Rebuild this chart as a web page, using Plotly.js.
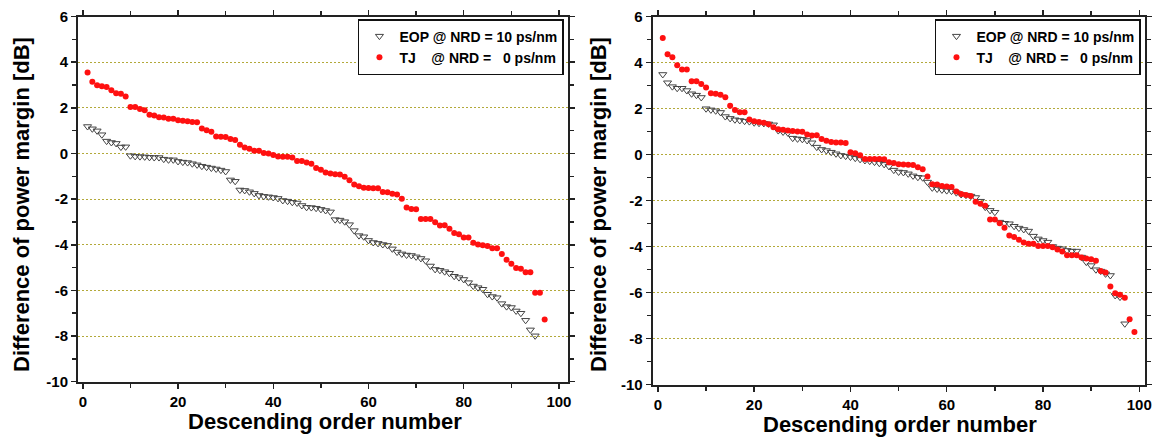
<!DOCTYPE html>
<html>
<head>
<meta charset="utf-8">
<script src="https://cdn.plot.ly/plotly-3.0.1.min.js"></script>
<style>html,body{margin:0;padding:0;background:#fff;}#chart{width:1158px;height:443px;}</style>
</head>
<body>
<div id="chart"></div>
<script>
const orderNumbers = [1,2,3,4,5,6,7,8,9,10,11,12,13,14,15,16,17,18,19,20,21,22,23,24,25,26,27,28,29,30,31,32,33,34,35,36,37,38,39,40,41,42,43,44,45,46,47,48,49,50,51,52,53,54,55,56,57,58,59,60,61,62,63,64,65,66,67,68,69,70,71,72,73,74,75,76,77,78,79,80,81,82,83,84,85,86,87,88,89,90,91,92,93,94,95,96,97,98,99];

const leftEOP = [1.18,1.08,0.99,0.82,0.54,0.48,0.44,0.28,0.29,
-0.10,-0.13,-0.14,-0.15,-0.17,-0.18,-0.18,-0.25,-0.28,-0.28,
-0.35,-0.38,-0.40,-0.45,-0.50,-0.56,-0.60,-0.64,-0.68,-0.73,-0.79,
-1.16,-1.22,
-1.60,-1.62,-1.68,-1.75,-1.84,-1.88,-1.90,-1.93,-1.97,-2.06,-2.09,-2.14,
-2.17,-2.28,-2.36,-2.37,-2.40,-2.45,-2.50,-2.56,
-2.90,-2.92,-2.99,-3.12,-3.38,-3.60,-3.65,-3.81,-3.90,-3.94,
-3.99,-4.03,-4.18,-4.32,-4.40,-4.45,-4.47,-4.53,-4.60,-4.70,
-4.93,-5.08,-5.12,-5.18,-5.25,-5.38,-5.44,-5.52,-5.66,-5.81,
-5.88,-5.95,-6.17,-6.27,-6.32,-6.58,-6.71,-6.75,-6.90,-7.00,
-7.31,-7.73,-7.99];

const leftTJ = [3.55,3.14,2.99,2.94,2.91,2.77,2.64,2.62,2.49,2.04,
2.04,1.95,1.89,1.70,1.66,1.59,1.57,1.52,1.52,1.45,
1.43,1.41,1.38,1.37,1.09,1.02,0.95,0.74,0.73,0.72,
0.63,0.59,0.38,0.26,0.21,0.12,0.12,0.02,0.00,-0.07,
-0.13,-0.14,-0.15,-0.18,-0.33,-0.33,-0.40,-0.45,-0.64,-0.71,
-0.84,-0.88,-0.91,-0.92,-1.02,-1.17,-1.36,-1.44,-1.50,-1.51,
-1.52,-1.53,-1.69,-1.70,-1.77,-1.80,-1.98,-2.37,-2.43,-2.45,
-2.87,-2.87,-2.87,-3.01,-3.16,-3.15,-3.30,-3.49,-3.54,-3.68,
-3.68,-3.91,-3.99,-4.02,-4.06,-4.15,-4.15,-4.41,-4.66,-4.83,
-5.02,-5.05,-5.21,-5.21,-6.10,-6.10,-7.28];

const rightEOP = [3.48,3.12,2.95,2.88,2.88,2.78,2.64,2.58,2.48,1.99,
1.94,1.90,1.83,1.65,1.57,1.51,1.48,1.45,1.43,1.38,
1.36,1.35,1.33,1.29,1.04,0.98,0.94,0.71,0.68,0.66,
0.61,0.51,0.32,0.22,0.17,0.10,0.03,-0.04,-0.07,-0.11,
-0.16,-0.21,-0.26,-0.29,-0.33,-0.38,-0.43,-0.52,-0.68,-0.76,
-0.78,-0.84,-0.93,-0.99,-1.01,-1.20,-1.45,-1.50,-1.54,-1.57,
-1.59,-1.66,-1.74,-1.77,-1.81,-1.87,-2.03,-2.29,-2.43,-2.51,
-2.94,-2.99,-3.01,-3.12,-3.20,-3.26,-3.33,-3.55,-3.67,-3.74,
-3.81,-4.00,-4.07,-4.10,-4.17,-4.20,-4.20,-4.46,-4.68,-4.83,
-5.01,-5.07,-5.19,-5.26,-6.13,-6.20,-7.36];

const rightTJ = [5.07,4.36,4.23,3.88,3.70,3.70,3.19,3.18,3.07,2.91,
2.66,2.64,2.60,2.49,2.12,1.94,1.84,1.84,1.52,1.45,
1.41,1.38,1.31,1.18,1.10,1.08,1.04,1.02,1.00,0.99,
0.87,0.83,0.84,0.67,0.60,0.54,0.52,0.52,0.50,0.10,
0.05,-0.03,-0.20,-0.20,-0.20,-0.20,-0.21,-0.34,-0.37,-0.42,
-0.44,-0.45,-0.46,-0.55,-0.64,-0.96,-1.29,-1.30,-1.37,-1.39,
-1.41,-1.61,-1.72,-1.76,-1.80,-2.05,-2.14,-2.23,-2.83,-2.83,
-2.99,-3.19,-3.52,-3.59,-3.71,-3.83,-3.88,-3.88,-3.98,-3.98,
-3.98,-4.03,-4.13,-4.22,-4.38,-4.38,-4.38,-4.48,-4.52,-4.55,
-4.62,-5.06,-5.13,-5.74,-6.03,-6.10,-6.23,-7.16,-7.72];

const xTickVals = [0,20,40,60,80,100];
const xTickText = ['0','20','40','60','80','100'];
const yTickVals = [-10,-8,-6,-4,-2,0,2,4,6];
const yTickText = ['-10','-8','-6','-4','-2','0','2','4','6'];

const nb = '\u00A0';
const eopName = 'EOP @ NRD = 10 ps/nm';
const tjName = 'TJ' + nb + nb + nb + nb + '@ NRD =' + nb + nb + nb + '0 ps/nm';
const xTitle = 'Descending order number';
const yTitle = 'Difference of power margin [dB]';

const FONT = 'Liberation Sans, Arial, Helvetica, sans-serif';
const eopMarker = {symbol:'triangle-down-open', size:7, color:'#444', line:{width:1, color:'#444'}};
const tjMarker = {symbol:'circle', size:6, color:'#ff1010', line:{width:0}};

const traces = [
  {x: orderNumbers.slice(0, leftEOP.length), y: leftEOP, mode:'markers', type:'scatter', name: eopName, marker: eopMarker, xaxis:'x', yaxis:'y', legend:'legend'},
  {x: orderNumbers.slice(0, leftTJ.length), y: leftTJ, mode:'markers', type:'scatter', name: tjName, marker: tjMarker, xaxis:'x', yaxis:'y', legend:'legend'},
  {x: orderNumbers.slice(0, rightEOP.length), y: rightEOP, mode:'markers', type:'scatter', name: eopName, marker: eopMarker, xaxis:'x2', yaxis:'y2', legend:'legend2'},
  {x: orderNumbers.slice(0, rightTJ.length), y: rightTJ, mode:'markers', type:'scatter', name: tjName, marker: tjMarker, xaxis:'x2', yaxis:'y2', legend:'legend2'}
];

const bold = arr => arr.map(t => '<b>' + t + '</b>');
const tickFont = {family:FONT, size:15, color:'#000', weight:700};
const titleFont = {family:FONT, size:22, color:'#000', weight:700};

function xAxis(domain, range, anchor) {
  return {
    domain: domain, range: range, anchor: anchor,
    tickmode:'array', tickvals: xTickVals, ticktext: bold(xTickText),
    ticks:'outside', ticklen:5, tickwidth:1.5, tickcolor:'#222',
    minor:{tickvals:[10,30,50,70,90], ticks:'outside', ticklen:4, tickwidth:1.5, tickcolor:'#222', showgrid:false},
    showline:true, linecolor:'#222', linewidth:2, mirror:'ticks',
    showgrid:false, zeroline:false,
    tickfont: tickFont
  };
}
function yAxis(domain, anchor) {
  return {
    domain: domain, range:[-10,6], anchor: anchor,
    tickmode:'array', tickvals: yTickVals, ticktext: bold(yTickText),
    ticks:'outside', ticklen:5, tickwidth:1.5, tickcolor:'#222',
    minor:{tickvals:[-9,-7,-5,-3,-1,1,3,5], ticks:'outside', ticklen:4, tickwidth:1.5, tickcolor:'#222', showgrid:false},
    showline:true, linecolor:'#222', linewidth:2, mirror:'ticks',
    showgrid:true, gridcolor:'#b3a93a', gridwidth:1, griddash:'2px,2px', zeroline:false,
    tickfont: tickFont
  };
}
function legendBox(xr) {
  return {x:xr, y:0.957, xanchor:'right', yanchor:'top', bgcolor:'#fff', bordercolor:'#111', borderwidth:1.5,
    font:{family:FONT, size:14, color:'#000', weight:700}, tracegroupgap:0, itemwidth:30};
}

function titleAnn(text, x, y, angle) {
  return {text:'<b>' + text + '</b>', xref:'paper', yref:'paper', x:x, y:y, xanchor:'center', yanchor:'middle',
    showarrow:false, textangle:angle, font:titleFont};
}

// plot areas in pixels (top, bottom) -> paper domains
const H = 443;
const leftTop = 16.5, leftBottom = 381.7;
const rightTop = 16.5, rightBottom = 384.5;

const layout = {
  width:1158, height:443,
  margin:{l:0, r:0, t:0, b:0},
  paper_bgcolor:'#fff', plot_bgcolor:'#fff',
  showlegend:true,
  xaxis: xAxis([0.0674, 0.4905], [-1, 101.9], 'y'),
  yaxis: yAxis([1 - leftBottom/H, 1 - leftTop/H], 'x'),
  xaxis2: xAxis([0.5636, 0.9888], [-1.1, 101.2], 'y2'),
  yaxis2: yAxis([1 - rightBottom/H, 1 - rightTop/H], 'x2'),
  legend: legendBox(0.487),
  legend2: legendBox(0.9853),
  annotations: [
    titleAnn(xTitle, 325/1158, 1 - 421/443, 0),
    titleAnn(yTitle, 21/1158, 1 - 205/443, -90),
    titleAnn(xTitle, 900/1158, 1 - 424/443, 0),
    titleAnn(yTitle, 598/1158, 1 - 205/443, -90)
  ]
};

Plotly.newPlot('chart', traces, layout, {staticPlot:true, displayModeBar:false});
</script>
</body>
</html>
